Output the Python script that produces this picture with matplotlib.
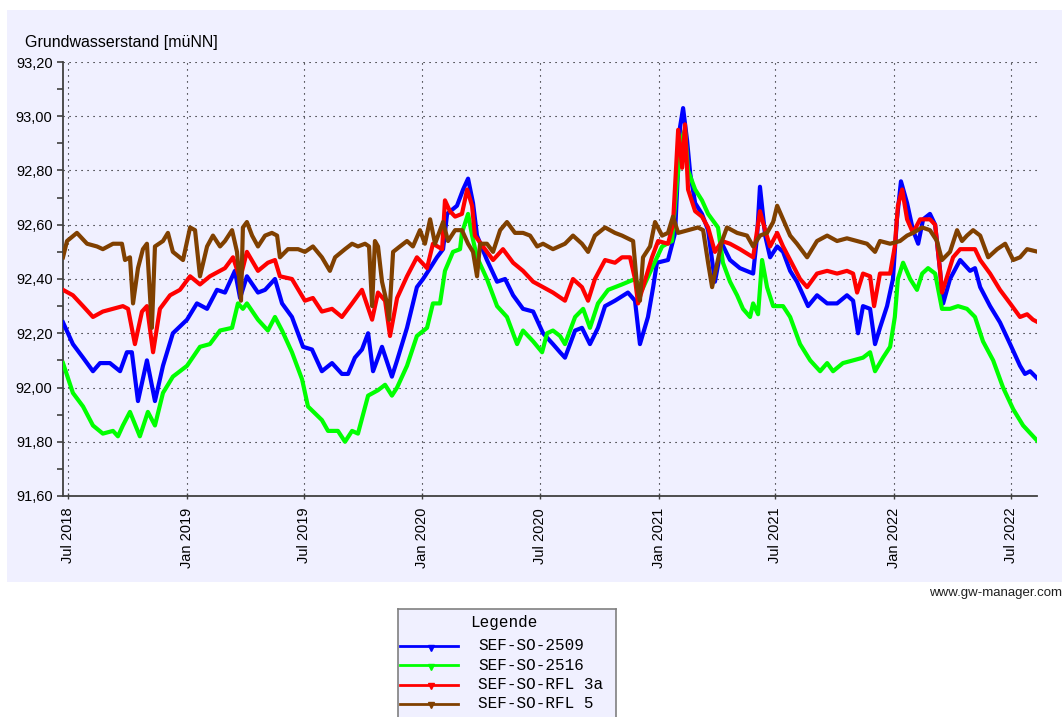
import matplotlib
import numpy as np
import pandas as pd

matplotlib.use("Agg")
import matplotlib.dates as mdates  # noqa: E402
import matplotlib.pyplot as plt  # noqa: E402
from matplotlib.patches import Rectangle  # noqa: E402
from matplotlib.ticker import FuncFormatter, MultipleLocator  # noqa: E402

# Time axis values are decimal years (2018.5 == 1 Jul 2018).
T_2509 = [2018.479, 2018.521, 2018.564, 2018.606, 2018.636, 2018.678, 2018.721, 2018.750, 2018.771,
          2018.797, 2018.835, 2018.869, 2018.903, 2018.945, 2019.005, 2019.047, 2019.090, 2019.132,
          2019.166, 2019.208, 2019.230, 2019.259, 2019.306, 2019.336, 2019.378, 2019.408, 2019.450,
          2019.497, 2019.535, 2019.577, 2019.620, 2019.662, 2019.688, 2019.717, 2019.747, 2019.773,
          2019.794, 2019.832, 2019.874, 2019.896, 2019.938, 2019.980, 2020.006, 2020.036, 2020.065,
          2020.091, 2020.108, 2020.150, 2020.176, 2020.197, 2020.218, 2020.235, 2020.277, 2020.320,
          2020.354, 2020.388, 2020.430, 2020.473, 2020.515, 2020.557, 2020.587, 2020.608, 2020.651,
          2020.680, 2020.714, 2020.748, 2020.778, 2020.820, 2020.875, 2020.905, 2020.926, 2020.960,
          2020.982, 2020.998, 2021.045, 2021.075, 2021.096, 2021.109, 2021.126, 2021.139, 2021.160,
          2021.189, 2021.215, 2021.232, 2021.244, 2021.274, 2021.308, 2021.350, 2021.406, 2021.423,
          2021.435, 2021.457, 2021.478, 2021.508, 2021.533, 2021.563, 2021.592, 2021.618, 2021.639,
          2021.677, 2021.720, 2021.762, 2021.804, 2021.830, 2021.851, 2021.872, 2021.902, 2021.923,
          2021.944, 2021.974, 2021.999, 2022.016, 2022.033, 2022.059, 2022.084, 2022.106, 2022.127,
          2022.156, 2022.178, 2022.199, 2022.212, 2022.241, 2022.284, 2022.326, 2022.347, 2022.369,
          2022.411, 2022.453, 2022.496, 2022.538, 2022.559, 2022.581, 2022.615]
V_2509 = [92.24, 92.16, 92.11, 92.06, 92.09, 92.09, 92.06, 92.13, 92.13,
          91.95, 92.10, 91.95, 92.08, 92.20, 92.25, 92.31, 92.29, 92.36,
          92.35, 92.43, 92.33, 92.41, 92.35, 92.36, 92.40, 92.31, 92.26,
          92.15, 92.14, 92.06, 92.09, 92.05, 92.05, 92.11, 92.14, 92.20,
          92.06, 92.15, 92.04, 92.10, 92.22, 92.37, 92.40, 92.44, 92.48,
          92.51, 92.64, 92.67, 92.73, 92.77, 92.68, 92.56, 92.47, 92.39,
          92.40, 92.34, 92.29, 92.28, 92.20, 92.16, 92.13, 92.11, 92.21,
          92.22, 92.16, 92.22, 92.30, 92.32, 92.35, 92.32, 92.16, 92.26,
          92.37, 92.46, 92.47, 92.57, 92.96, 93.03, 92.91, 92.79, 92.68,
          92.64, 92.58, 92.47, 92.39, 92.53, 92.47, 92.44, 92.42, 92.56,
          92.74, 92.56, 92.48, 92.52, 92.50, 92.43, 92.39, 92.34, 92.30,
          92.34, 92.31, 92.31, 92.34, 92.32, 92.20, 92.30, 92.29, 92.16,
          92.22, 92.30, 92.40, 92.62, 92.76, 92.68, 92.58, 92.53, 92.62,
          92.64, 92.60, 92.43, 92.31, 92.40, 92.47, 92.43, 92.44, 92.37,
          92.30, 92.24, 92.16, 92.08, 92.05, 92.06, 92.03]

T_2516 = [2018.479, 2018.521, 2018.564, 2018.606, 2018.648, 2018.691, 2018.712, 2018.733, 2018.763,
          2018.805, 2018.839, 2018.869, 2018.903, 2018.945, 2019.005, 2019.060, 2019.102, 2019.145,
          2019.196, 2019.221, 2019.242, 2019.259, 2019.306, 2019.348, 2019.378, 2019.408, 2019.450,
          2019.493, 2019.518, 2019.577, 2019.603, 2019.645, 2019.675, 2019.705, 2019.730, 2019.773,
          2019.815, 2019.845, 2019.874, 2019.896, 2019.938, 2019.980, 2020.023, 2020.048, 2020.078,
          2020.099, 2020.133, 2020.163, 2020.171, 2020.197, 2020.214, 2020.235, 2020.277, 2020.320,
          2020.362, 2020.405, 2020.430, 2020.473, 2020.511, 2020.532, 2020.557, 2020.587, 2020.608,
          2020.651, 2020.685, 2020.714, 2020.748, 2020.791, 2020.850, 2020.905, 2020.935, 2020.977,
          2021.020, 2021.062, 2021.083, 2021.105, 2021.117, 2021.130, 2021.160, 2021.189, 2021.215,
          2021.257, 2021.278, 2021.308, 2021.338, 2021.363, 2021.393, 2021.406, 2021.427, 2021.444,
          2021.465, 2021.491, 2021.533, 2021.563, 2021.605, 2021.648, 2021.690, 2021.720, 2021.745,
          2021.787, 2021.830, 2021.872, 2021.902, 2021.923, 2021.957, 2021.987, 2022.007, 2022.020,
          2022.042, 2022.072, 2022.101, 2022.123, 2022.148, 2022.178, 2022.207, 2022.241, 2022.275,
          2022.313, 2022.347, 2022.381, 2022.424, 2022.466, 2022.509, 2022.551, 2022.615]
V_2516 = [92.09, 91.98, 91.93, 91.86, 91.83, 91.84, 91.82, 91.86, 91.91,
          91.82, 91.91, 91.86, 91.98, 92.04, 92.08, 92.15, 92.16, 92.21,
          92.22, 92.31, 92.29, 92.31, 92.25, 92.21, 92.26, 92.21, 92.13,
          92.03, 91.93, 91.88, 91.84, 91.84, 91.80, 91.84, 91.83, 91.97,
          91.99, 92.01, 91.97, 92.00, 92.08, 92.19, 92.22, 92.31, 92.31,
          92.43, 92.50, 92.51, 92.57, 92.64, 92.56, 92.48, 92.40, 92.30,
          92.26, 92.16, 92.21, 92.17, 92.13, 92.20, 92.21, 92.19, 92.16,
          92.26, 92.29, 92.22, 92.31, 92.36, 92.38, 92.40, 92.36, 92.44,
          92.52, 92.54, 92.76, 92.92, 92.95, 92.80, 92.73, 92.69, 92.64,
          92.59, 92.46, 92.39, 92.34, 92.29, 92.26, 92.31, 92.27, 92.47,
          92.37, 92.30, 92.30, 92.26, 92.16, 92.10, 92.06, 92.09, 92.06,
          92.09, 92.10, 92.11, 92.13, 92.06, 92.11, 92.15, 92.26, 92.40,
          92.46, 92.40, 92.36, 92.42, 92.44, 92.42, 92.29, 92.29, 92.30,
          92.29, 92.26, 92.17, 92.10, 92.00, 91.92, 91.86, 91.80]

T_RFL3A = [2018.479, 2018.521, 2018.564, 2018.606, 2018.648, 2018.691, 2018.733, 2018.755, 2018.784,
           2018.814, 2018.835, 2018.861, 2018.890, 2018.933, 2018.975, 2019.018, 2019.060, 2019.102,
           2019.145, 2019.166, 2019.200, 2019.230, 2019.259, 2019.306, 2019.348, 2019.378, 2019.399,
           2019.450, 2019.505, 2019.539, 2019.577, 2019.620, 2019.662, 2019.705, 2019.747, 2019.790,
           2019.815, 2019.845, 2019.866, 2019.896, 2019.938, 2019.980, 2020.023, 2020.048, 2020.087,
           2020.099, 2020.120, 2020.142, 2020.171, 2020.193, 2020.214, 2020.226, 2020.260, 2020.303,
           2020.345, 2020.388, 2020.430, 2020.473, 2020.515, 2020.557, 2020.608, 2020.642, 2020.680,
           2020.706, 2020.735, 2020.778, 2020.820, 2020.850, 2020.884, 2020.905, 2020.918, 2020.939,
           2020.977, 2021.003, 2021.045, 2021.066, 2021.088, 2021.105, 2021.117, 2021.130, 2021.160,
           2021.189, 2021.215, 2021.244, 2021.274, 2021.308, 2021.350, 2021.406, 2021.435, 2021.457,
           2021.478, 2021.508, 2021.533, 2021.563, 2021.605, 2021.635, 2021.677, 2021.720, 2021.762,
           2021.804, 2021.830, 2021.847, 2021.872, 2021.902, 2021.919, 2021.944, 2021.987, 2022.007,
           2022.020, 2022.038, 2022.059, 2022.084, 2022.114, 2022.156, 2022.178, 2022.199, 2022.207,
           2022.229, 2022.254, 2022.284, 2022.326, 2022.347, 2022.369, 2022.411, 2022.453, 2022.496,
           2022.538, 2022.568, 2022.593, 2022.615]
V_RFL3A = [92.36, 92.34, 92.30, 92.26, 92.28, 92.29, 92.30, 92.29, 92.16,
           92.28, 92.30, 92.13, 92.29, 92.34, 92.36, 92.41, 92.38, 92.41,
           92.43, 92.44, 92.48, 92.40, 92.50, 92.43, 92.46, 92.47, 92.41,
           92.40, 92.32, 92.33, 92.28, 92.29, 92.26, 92.31, 92.36, 92.25,
           92.35, 92.32, 92.19, 92.33, 92.41, 92.48, 92.44, 92.53, 92.51,
           92.69, 92.65, 92.63, 92.64, 92.73, 92.67, 92.56, 92.52, 92.47,
           92.51, 92.46, 92.43, 92.39, 92.37, 92.35, 92.32, 92.40, 92.37,
           92.32, 92.40, 92.47, 92.46, 92.48, 92.48, 92.40, 92.31, 92.37,
           92.48, 92.54, 92.53, 92.60, 92.95, 92.81, 92.97, 92.73, 92.65,
           92.63, 92.59, 92.50, 92.54, 92.53, 92.51, 92.48, 92.65, 92.58,
           92.52, 92.57, 92.52, 92.47, 92.40, 92.37, 92.42, 92.43, 92.42,
           92.43, 92.42, 92.35, 92.42, 92.41, 92.30, 92.42, 92.42, 92.52,
           92.67, 92.73, 92.62, 92.57, 92.62, 92.62, 92.60, 92.43, 92.35,
           92.41, 92.48, 92.51, 92.51, 92.51, 92.47, 92.42, 92.36, 92.31,
           92.26, 92.27, 92.25, 92.24]

T_RFL5 = [2018.479, 2018.496, 2018.538, 2018.581, 2018.623, 2018.648, 2018.691, 2018.729, 2018.742,
          2018.763, 2018.776, 2018.797, 2018.818, 2018.835, 2018.856, 2018.869, 2018.903, 2018.924,
          2018.945, 2018.988, 2019.018, 2019.039, 2019.060, 2019.090, 2019.115, 2019.145, 2019.166,
          2019.196, 2019.217, 2019.234, 2019.242, 2019.259, 2019.281, 2019.306, 2019.336, 2019.365,
          2019.387, 2019.399, 2019.433, 2019.476, 2019.505, 2019.539, 2019.577, 2019.611, 2019.633,
          2019.675, 2019.705, 2019.730, 2019.760, 2019.777, 2019.790, 2019.802, 2019.815, 2019.832,
          2019.853, 2019.862, 2019.879, 2019.908, 2019.938, 2019.963, 2019.993, 2020.014, 2020.036,
          2020.057, 2020.091, 2020.112, 2020.142, 2020.171, 2020.197, 2020.218, 2020.235, 2020.248,
          2020.277, 2020.303, 2020.333, 2020.362, 2020.396, 2020.430, 2020.460, 2020.490, 2020.515,
          2020.557, 2020.608, 2020.642, 2020.680, 2020.706, 2020.735, 2020.778, 2020.820, 2020.850,
          2020.897, 2020.914, 2020.926, 2020.939, 2020.969, 2020.990, 2021.020, 2021.045, 2021.066,
          2021.088, 2021.130, 2021.172, 2021.194, 2021.215, 2021.232, 2021.244, 2021.274, 2021.295,
          2021.338, 2021.380, 2021.406, 2021.435, 2021.465, 2021.491, 2021.508, 2021.533, 2021.563,
          2021.592, 2021.635, 2021.677, 2021.720, 2021.762, 2021.804, 2021.847, 2021.889, 2021.923,
          2021.944, 2021.987, 2022.029, 2022.059, 2022.084, 2022.123, 2022.156, 2022.186, 2022.207,
          2022.241, 2022.271, 2022.292, 2022.313, 2022.339, 2022.369, 2022.403, 2022.441, 2022.475,
          2022.509, 2022.538, 2022.568, 2022.615]
V_RFL5 = [92.48, 92.54, 92.57, 92.53, 92.52, 92.51, 92.53, 92.53, 92.47,
          92.48, 92.31, 92.44, 92.51, 92.53, 92.22, 92.52, 92.54, 92.57,
          92.50, 92.47, 92.59, 92.58, 92.41, 92.52, 92.56, 92.52, 92.54,
          92.58, 92.50, 92.32, 92.59, 92.61, 92.56, 92.52, 92.56, 92.57,
          92.56, 92.48, 92.51, 92.51, 92.50, 92.52, 92.48, 92.43, 92.48,
          92.51, 92.53, 92.52, 92.53, 92.52, 92.30, 92.54, 92.52, 92.39,
          92.31, 92.25, 92.50, 92.52, 92.54, 92.52, 92.58, 92.53, 92.62,
          92.53, 92.61, 92.54, 92.58, 92.58, 92.53, 92.50, 92.41, 92.53,
          92.53, 92.50, 92.58, 92.61, 92.57, 92.57, 92.56, 92.52, 92.53,
          92.51, 92.53, 92.56, 92.53, 92.50, 92.56, 92.59, 92.57, 92.56,
          92.54, 92.37, 92.32, 92.48, 92.52, 92.61, 92.56, 92.57, 92.63,
          92.57, 92.58, 92.59, 92.58, 92.46, 92.37, 92.42, 92.54, 92.59,
          92.57, 92.56, 92.52, 92.56, 92.57, 92.61, 92.67, 92.62, 92.56,
          92.53, 92.48, 92.54, 92.56, 92.54, 92.55, 92.54, 92.53, 92.50,
          92.54, 92.53, 92.54, 92.56, 92.57, 92.59, 92.58, 92.54, 92.47,
          92.50, 92.58, 92.54, 92.56, 92.58, 92.56, 92.48, 92.51, 92.53,
          92.47, 92.48, 92.51, 92.50]

NAMES = ["SEF-SO-2509", "SEF-SO-2516", "SEF-SO-RFL 3a", "SEF-SO-RFL 5"]
COLORS = ["#0000FF", "#00FF00", "#FF0000", "#804000"]
TIMES = [T_2509, T_2516, T_RFL3A, T_RFL5]
VALUES = [V_2509, V_2516, V_RFL3A, V_RFL5]

Y_MIN, Y_MAX = 91.60, 93.20
T_MIN, T_MAX = 2018.479, 2022.610

PANEL = "#F0F0FF"
W, H = 1064, 717


def to_dates(t):
    t = np.asarray(t, dtype=float)
    return pd.Timestamp("2018-07-01") + pd.to_timedelta((t - 2018.5) * 365.25, unit="D")


def fx(px):
    return px / W


def fy(py):
    return 1 - py / H


plt.rcParams["font.family"] = ["Liberation Sans", "DejaVu Sans"]

fig = plt.figure(figsize=(W / 100, H / 100), dpi=100)
fig.patch.set_facecolor("white")
fig.patches.append(Rectangle((fx(7), fy(582)), fx(1062 - 7), (582 - 10) / H,
                             transform=fig.transFigure, facecolor=PANEL,
                             edgecolor="none", zorder=-5))

ax = fig.add_axes([fx(63), fy(496), fx(1037 - 63), (496 - 62) / H])
ax.set_facecolor(PANEL)

for t, v, c in zip(TIMES, VALUES, COLORS):
    ax.plot(to_dates(t), v, color=c, lw=3.0, solid_joinstyle="round", zorder=3)

ax.set_ylim(Y_MIN, Y_MAX)
ax.set_xlim(to_dates([T_MIN])[0], to_dates([T_MAX])[0])
ax.yaxis.set_major_locator(MultipleLocator(0.2))
ax.yaxis.set_minor_locator(MultipleLocator(0.1))
ax.yaxis.set_major_formatter(FuncFormatter(lambda v, _: f"{v:.2f}".replace(".", ",")))
ax.xaxis.set_major_locator(mdates.MonthLocator(bymonth=[1, 7]))
ax.xaxis.set_major_formatter(mdates.DateFormatter("%b %Y"))

for s in ("top", "right"):
    ax.spines[s].set_visible(False)
for s in ("left", "bottom"):
    ax.spines[s].set_color("#404040")
    ax.spines[s].set_linewidth(1.3)

ax.tick_params(axis="y", which="both", direction="out", length=4.5, width=1.2,
               color="#404040", labelsize=10.5, pad=3)
ax.tick_params(axis="x", which="major", direction="inout", length=5, width=1.0,
               color="#404040", labelsize=10.5, pad=6)
plt.setp(ax.get_xticklabels(), rotation=90, ha="center", va="top")

ax.grid(True, which="major", color="black", linestyle=(0, (1, 4.4)), lw=0.8)
ax.set_axisbelow(True)

fig.text(fx(25), fy(42), "Grundwasserstand [müNN]", ha="left", va="center", fontsize=11.5)
fig.text(fx(1062), fy(593), "www.gw-manager.com", ha="right", va="center",
         fontsize=9.5, color="#202020")

# legend box, drawn in pixel units and cut by the bottom edge like the original
lax = fig.add_axes([fx(398), 0, fx(616 - 398), (717 - 609) / H])
lax.set_xlim(0, 218)
lax.set_ylim(108, 0)
lax.set_facecolor(PANEL)
lax.set_xticks([])
lax.set_yticks([])
for s in ("top", "left", "right"):
    lax.spines[s].set_color("#808080")
    lax.spines[s].set_linewidth(1.2)
lax.spines["bottom"].set_visible(False)

mono = ["Liberation Mono", "DejaVu Sans Mono"]
lax.text(106, 13, "Legende", ha="center", va="center", fontsize=11.5, family=mono)
for i, (name, c) in enumerate(zip(NAMES, COLORS)):
    y = 37 + i * 19.3
    lax.plot([2, 60], [y, y], color=c, lw=2.0)
    lax.plot([33], [y + 1.5], marker="v", color=c, ms=4)
    lax.text(80, y, name, ha="left", va="center", fontsize=11.5, family=mono)

fig.savefig("out.png", dpi=100)
